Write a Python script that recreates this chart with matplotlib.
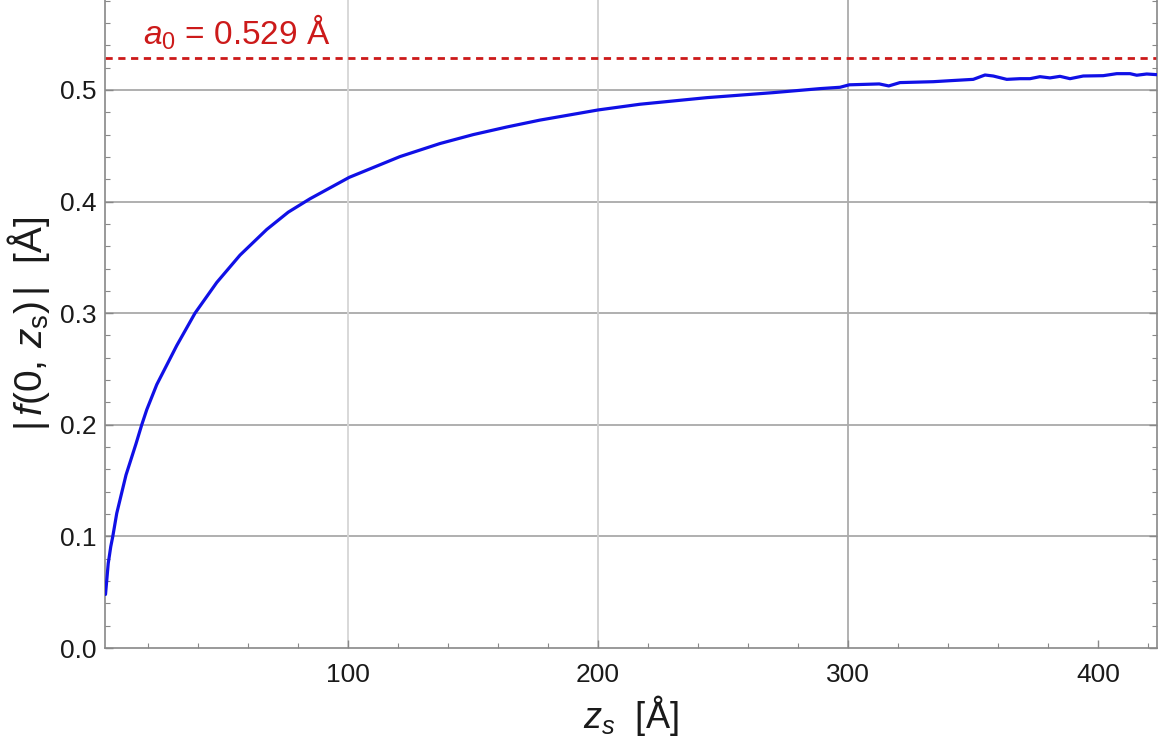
import matplotlib
matplotlib.use("Agg")
import matplotlib.pyplot as plt
from matplotlib.ticker import MultipleLocator, FormatStrFormatter

# ---- data ----
zs = [3.0, 4.1, 5.1, 5.9, 7.5, 11.2, 15.2, 17.5, 19.5, 23.5, 31.5, 38.8, 47.5,
      56.8, 67.5, 76.1, 84.8, 100.5, 120.8, 136.8, 150.1, 163.5, 176.8, 200.1,
      216.8, 243.5, 270.1, 288.8, 296.8, 300.5, 312.5, 316.3, 320.8, 334.1,
      340.8, 350.1, 354.8, 358.1, 363.5, 368.8, 372.8, 376.8, 380.8, 384.8,
      388.8, 394.1, 402.1, 407.5, 412.8, 415.5, 419.5, 423.6]
f_abs = [0.048, 0.0759, 0.0908, 0.0998, 0.1207, 0.1550, 0.1830, 0.2000, 0.2135,
         0.2360, 0.2710, 0.3000, 0.3275, 0.3520, 0.3750, 0.3905, 0.4025, 0.4217,
         0.4403, 0.4520, 0.4600, 0.4668, 0.4730, 0.4821, 0.4872, 0.4931, 0.4976,
         0.5012, 0.5024, 0.5046, 0.5054, 0.5036, 0.5066, 0.5074, 0.5083, 0.5095,
         0.5134, 0.5125, 0.5095, 0.5101, 0.5101, 0.5119, 0.5108, 0.5122, 0.5101,
         0.5125, 0.5128, 0.5146, 0.5146, 0.5132, 0.5143, 0.5137]
a0 = 0.529
a0_label = r"$a_0$ = 0.529 Å"
x_major = [100, 200, 300, 400]
y_major = [0.0, 0.1, 0.2, 0.3, 0.4, 0.5]
vgrid = [100, 200, 300]
vgrid_colors = ["#d6d6d6", "#cfcfcf", "#ababab"]

plt.rcParams["font.family"] = ["Liberation Sans", "DejaVu Sans"]
plt.rcParams["mathtext.fontset"] = "custom"
plt.rcParams["mathtext.rm"] = "Liberation Sans"
plt.rcParams["mathtext.it"] = "Liberation Sans:italic"

fig = plt.figure(figsize=(11.65, 7.44), dpi=100)
ax = fig.add_axes([105 / 1165, 96 / 744, (1157 - 105) / 1165, 648 / 744])

# grid lines
for y in y_major[1:]:
    ax.axhline(y, color="#a9a9a9", lw=1.3, zorder=1)
for x, c in zip(vgrid, vgrid_colors):
    ax.axvline(x, color=c, lw=1.3, zorder=1)

ax.axhline(a0, color="#cc1a1a", lw=2.0, dashes=(2.6, 2.0), zorder=2)
ax.plot(zs, f_abs, color="#1010e6", lw=2.3, zorder=3,
        solid_joinstyle="round", solid_capstyle="round")

ax.text(18, 0.541, a0_label, color="#cc1a1a", fontsize=24, zorder=4)

ax.set_xlim(2.8, 423.6)
ax.set_ylim(0, 0.5806)
ax.set_xticks(x_major)
ax.set_yticks(y_major)
ax.yaxis.set_major_formatter(FormatStrFormatter("%.1f"))
ax.xaxis.set_minor_locator(MultipleLocator(20))
ax.yaxis.set_minor_locator(MultipleLocator(0.02))

ax.tick_params(which="both", direction="in", colors="#888888",
               labelcolor="#1a1a1a", labelsize=19, right=True, top=False)
ax.tick_params(which="major", length=6, width=1)
ax.tick_params(which="minor", length=3.5, width=0.8)
ax.tick_params(axis="x", pad=11)
ax.tick_params(axis="y", pad=6)

for side in ["left", "right", "bottom"]:
    ax.spines[side].set_color("#888888")
    ax.spines[side].set_linewidth(1.2)
ax.spines["top"].set_visible(False)

ax.set_xlabel(r"$z_s$  [Å]", fontsize=26, color="#1a1a1a", labelpad=4)
ax.set_ylabel(r"$|\,f(0,\,z_\mathrm{s})\,|$  [Å]", fontsize=28,
              color="#1a1a1a", labelpad=6)

fig.savefig("out.png", dpi=100, facecolor="white")
